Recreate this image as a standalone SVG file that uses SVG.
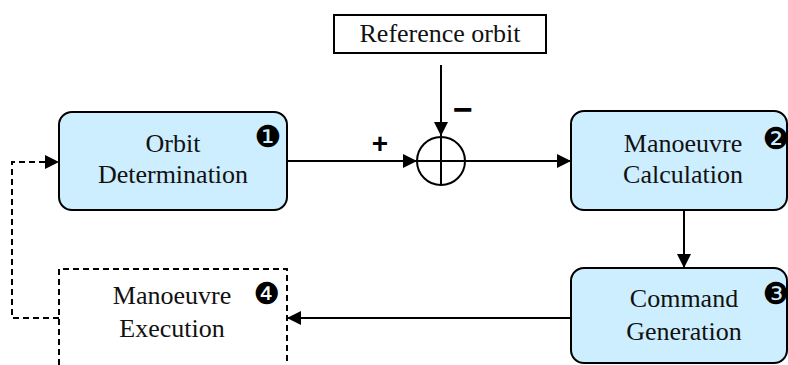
<svg xmlns="http://www.w3.org/2000/svg" width="788" height="365" viewBox="0 0 788 365">
<style>
.box{fill:#cceeff;stroke:#000;stroke-width:2}
.dbox{fill:none;stroke:#000;stroke-width:2;stroke-dasharray:6,4}
.t{font-family:'Times New Roman','Liberation Serif','DejaVu Serif',serif;font-size:26px;fill:#111;text-anchor:middle}
.b{font-family:'DejaVu Sans',sans-serif;font-size:30px;fill:#000;text-anchor:middle}
.ln{fill:none;stroke:#000;stroke-width:2}
.sign{font-family:'Liberation Sans',Arial,sans-serif;font-weight:bold;fill:#000;text-anchor:middle}
</style>
<defs>
<marker id="ah" viewBox="0 0 14 14" refX="14" refY="7" markerWidth="14" markerHeight="14" markerUnits="userSpaceOnUse" orient="auto">
<path d="M0,0 L14,7 L0,14 Z" fill="#000"/>
</marker>
</defs>
<g id="connectors">
<path class="ln" d="M287,161 L417,161" marker-end="url(#ah)"/>
<path class="ln" d="M441,65 L441,136" marker-end="url(#ah)"/>
<path class="ln" d="M465,161 L571,161" marker-end="url(#ah)"/>
<path class="ln" d="M684,210 L684,268" marker-end="url(#ah)"/>
<path class="ln" d="M571,318 L287,318" marker-end="url(#ah)"/>
<path class="ln" d="M59,318 L12,318 L12,162 L59,162" stroke-dasharray="6,4" marker-end="url(#ah)"/>
</g>
<g id="reference-orbit">
<rect x="334" y="15" width="212" height="38" fill="#fff" stroke="#000" stroke-width="2"/>
<text class="t" x="440" y="42" font-family="Liberation Serif">Reference orbit</text>
</g>
<g id="sum">
<circle cx="441" cy="161" r="24" fill="#fff" stroke="#000" stroke-width="2"/>
<path class="ln" d="M417,161 L465,161 M441,137 L441,185"/>
<text class="sign" x="380" y="153" font-size="28">+</text>
<text class="sign" x="463" y="121" font-size="34">−</text>
</g>
<g id="orbit-determination">
<rect class="box" x="59" y="112" width="228" height="98" rx="13"/>
<text class="t" x="173" y="152">Orbit</text>
<text class="t" x="173" y="183">Determination</text>
<text class="b" x="268" y="147">❶</text>
</g>
<g id="manoeuvre-calculation">
<rect class="box" x="571" y="111" width="216" height="99" rx="13"/>
<text class="t" x="683" y="152">Manoeuvre</text>
<text class="t" x="683" y="183">Calculation</text>
<text class="b" x="776" y="149">❷</text>
</g>
<g id="command-generation">
<rect class="box" x="571" y="268" width="216" height="95" rx="13"/>
<text class="t" x="684" y="307">Command</text>
<text class="t" x="684" y="340">Generation</text>
<text class="b" x="776" y="304">❸</text>
</g>
<g id="manoeuvre-execution">
<path class="dbox" d="M59,375 L59,269 L287,269 L287,375"/>
<text class="t" x="172" y="304">Manoeuvre</text>
<text class="t" x="172" y="337">Execution</text>
<text class="b" x="267" y="304">❹</text>
</g>
</svg>
